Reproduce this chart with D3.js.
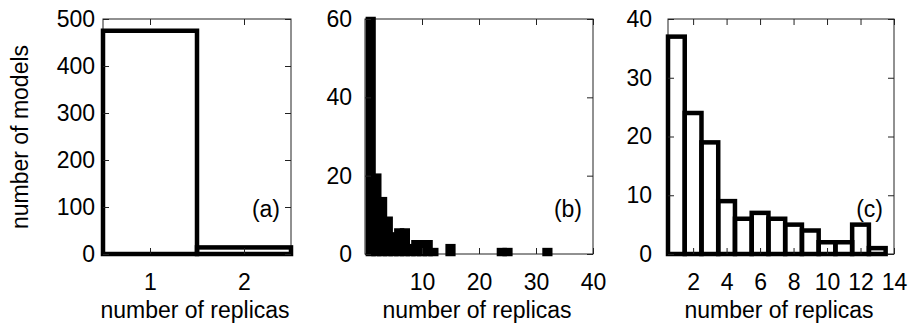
<!DOCTYPE html>
<html>
<head>
<meta charset="utf-8">
<script src="https://cdn.jsdelivr.net/npm/d3@7"></script>
<style>
  body { margin: 0; background: #fff; }
  text { font-family: "Liberation Sans", Arial, Helvetica, sans-serif; fill: #000; }
</style>
</head>
<body>
<script>
// panel (a)
const replicasA = [1, 2];
const modelsA = [475, 14];
const xTicksA = [1, 2];
const yTicksA = [0, 100, 200, 300, 400, 500];

// panel (b)
const replicasB = [1, 2, 3, 4, 5, 6, 7, 8, 9, 10, 11, 12, 15, 24, 25, 32];
const modelsB = [60, 20, 14, 9, 5, 6, 6, 2, 3, 3, 3, 1, 2, 1, 1, 1];
const xTicksB = [10, 20, 30, 40];
const yTicksB = [0, 20, 40, 60];

// panel (c)
const replicasC = [1, 2, 3, 4, 5, 6, 7, 8, 9, 10, 11, 12, 13];
const modelsC = [37, 24, 19, 9, 6, 7, 6, 5, 4, 2, 2, 5, 1];
const xTicksC = [2, 4, 6, 8, 10, 12, 14];
const yTicksC = [0, 10, 20, 30, 40];

const w = 910, h = 326;
const plotTop = 19, plotBottom = 254;
const fontSize = 23;

const svg = d3.select("body").append("svg")
  .attr("width", w)
  .attr("height", h);

const panels = [
  { id: "a", x: replicasA, y: modelsA, xd: [0.5, 2.5], yd: [0, 500], xt: xTicksA, yt: yTicksA, left: 103, right: 291, pad: 8, fill: "none" },
  { id: "b", x: replicasB, y: modelsB, xd: [0, 40], yd: [0, 60], xt: xTicksB, yt: yTicksB, left: 365, right: 593, pad: 13, fill: "#000" },
  { id: "c", x: replicasC, y: modelsC, xd: [0.5, 14], yd: [0, 40], xt: xTicksC, yt: yTicksC, left: 668, right: 894, pad: 16, fill: "none" }
];

panels.forEach(p => {
  const xScale = d3.scaleLinear().domain(p.xd).range([p.left, p.right]);
  const yScale = d3.scaleLinear().domain(p.yd).range([plotBottom, plotTop]);
  const g = svg.append("g").attr("id", "panel-" + p.id);

  g.append("defs").append("clipPath")
    .attr("id", "clip-" + p.id)
    .append("rect")
    .attr("x", p.left - 3).attr("y", plotTop - 3)
    .attr("width", p.right - p.left + 6).attr("height", plotBottom - plotTop + 6);

  // frame
  g.append("rect")
    .attr("x", p.left).attr("y", plotTop)
    .attr("width", p.right - p.left).attr("height", plotBottom - plotTop)
    .attr("fill", "none")
    .attr("stroke", "#222")
    .attr("stroke-width", 1);

  // bars
  const data = p.x.map((v, i) => [v, p.y[i]]);
  g.append("g")
    .attr("clip-path", "url(#clip-" + p.id + ")")
    .selectAll("rect")
    .data(data)
    .enter()
    .append("rect")
    .attr("x", d => xScale(d[0] - 0.5))
    .attr("y", d => yScale(Math.min(d[1], p.yd[1])))
    .attr("width", d => xScale(d[0] + 0.5) - xScale(d[0] - 0.5))
    .attr("height", d => plotBottom - yScale(Math.min(d[1], p.yd[1])))
    .attr("fill", p.fill)
    .attr("stroke", "#000")
    .attr("stroke-width", 4.5);

  // axes, ticks inward on all four sides
  const xAxis = d3.axisBottom(xScale).tickValues(p.xt).tickSize(-6).tickPadding(20).tickFormat(d3.format("d"));
  const yAxis = d3.axisLeft(yScale).tickValues(p.yt).tickSize(-6).tickPadding(p.pad).tickFormat(d3.format("d"));
  const xTop = d3.axisTop(xScale).tickValues(p.xt).tickSize(-6).tickFormat("");
  const yRight = d3.axisRight(yScale).tickValues(p.yt).tickSize(-6).tickFormat("");

  const axes = [
    [xAxis, "translate(0," + plotBottom + ")"],
    [yAxis, "translate(" + p.left + ",0)"],
    [xTop, "translate(0," + plotTop + ")"],
    [yRight, "translate(" + p.right + ",0)"]
  ];
  axes.forEach(([ax, tr]) => {
    const a = g.append("g").attr("transform", tr).call(ax);
    a.select(".domain").remove();
    a.selectAll("line").attr("stroke", "#222");
    a.selectAll("text")
      .attr("font-size", fontSize)
      .attr("font-family", "Liberation Sans, Arial, sans-serif")
      .attr("fill", "#000");
  });

  // x label
  g.append("text")
    .attr("x", (p.left + p.right) / 2 - 2)
    .attr("y", 318)
    .attr("text-anchor", "middle")
    .attr("font-size", fontSize)
    .text("number of replicas");

  // panel tag
  g.append("text")
    .attr("x", p.right - 11)
    .attr("y", 217)
    .attr("text-anchor", "end")
    .attr("font-size", fontSize)
    .text("(" + p.id + ")");
});

svg.append("text")
  .attr("transform", "translate(28,137) rotate(-90)")
  .attr("text-anchor", "middle")
  .attr("font-size", fontSize)
  .text("number of models");
</script>
</body>
</html>
